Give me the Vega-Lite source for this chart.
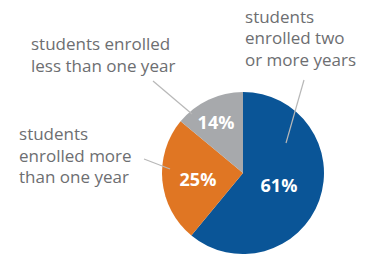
{
  "$schema": "https://vega.github.io/schema/vega-lite/v6.json",
  "width": 162,
  "height": 162,
  "autosize": {"type": "none"},
  "padding": {"left": 162, "top": 92, "right": 50, "bottom": 0},
  "background": "white",
  "config": {"view": {"stroke": null}},
  "datasets": {
    "slices": [
      {"k": 1, "group": "students enrolled two or more years", "share": 61},
      {"k": 2, "group": "students enrolled more than one year", "share": 25},
      {"k": 3, "group": "students enrolled less than one year", "share": 14}
    ],
    "leaders": [
      {"x1": -1.111, "y1": 1.136, "x2": -0.63, "y2": 0.728},
      {"x1": -1.222, "y1": 0.173, "x2": -0.901, "y2": 0.049},
      {"x1": 0.753, "y1": 1.148, "x2": 0.531, "y2": 0.37}
    ],
    "pcts": [
      {"txt": "61%", "x": 0.444, "y": -0.173},
      {"txt": "25%", "x": -0.556, "y": -0.099},
      {"txt": "14%", "x": -0.333, "y": 0.605}
    ],
    "labels": [
      {"txt": "students\nenrolled two\nor more years", "x": 0.025, "y": 1.914},
      {"txt": "students\nenrolled more\nthan one year", "x": -2.765, "y": 0.469},
      {"txt": "students enrolled\nless than one year", "x": -2.617, "y": 1.58}
    ]
  },
  "layer": [
    {
      "data": {"name": "slices"},
      "mark": {"type": "arc"},
      "encoding": {
        "theta": {"field": "share", "type": "quantitative", "stack": true},
        "order": {"field": "k", "type": "quantitative"},
        "color": {
          "field": "group",
          "type": "nominal",
          "scale": {
            "domain": ["students enrolled two or more years", "students enrolled more than one year", "students enrolled less than one year"],
            "range": ["#0a5597", "#e07623", "#a7a9ac"]
          },
          "legend": null
        }
      }
    },
    {
      "data": {"name": "leaders"},
      "mark": {"type": "rule", "color": "#b8b8b8", "strokeWidth": 1.2},
      "encoding": {
        "x": {"field": "x1", "type": "quantitative", "scale": {"domain": [-1, 1]}, "axis": null},
        "y": {"field": "y1", "type": "quantitative", "scale": {"domain": [-1, 1]}, "axis": null},
        "x2": {"field": "x2"},
        "y2": {"field": "y2"}
      }
    },
    {
      "data": {"name": "pcts"},
      "mark": {"type": "text", "font": "Open Sans", "fontWeight": "bold", "fontSize": 18, "color": "white", "align": "center", "baseline": "middle"},
      "encoding": {
        "x": {"field": "x", "type": "quantitative"},
        "y": {"field": "y", "type": "quantitative"},
        "text": {"field": "txt", "type": "nominal"}
      }
    },
    {
      "data": {"name": "labels"},
      "mark": {"type": "text", "font": "Open Sans", "fontSize": 17, "color": "#6d6e71", "align": "left", "baseline": "middle", "lineBreak": "\n", "lineHeight": 21.5},
      "encoding": {
        "x": {"field": "x", "type": "quantitative"},
        "y": {"field": "y", "type": "quantitative"},
        "text": {"field": "txt", "type": "nominal"}
      }
    }
  ]
}
